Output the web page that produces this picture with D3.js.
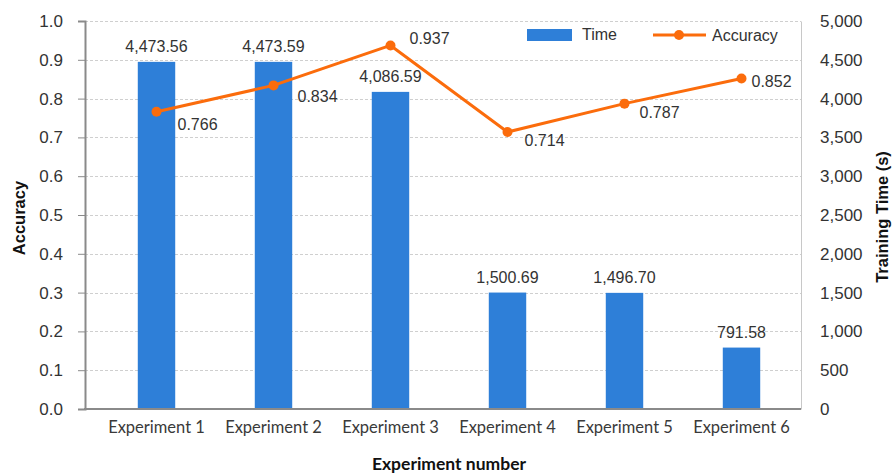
<!DOCTYPE html>
<html>
<head>
<meta charset="utf-8">
<script src="https://cdn.jsdelivr.net/npm/d3@7"></script>
<style>
  html, body { margin: 0; padding: 0; background: #fff; }
  svg { display: block; }
</style>
</head>
<body>
<svg id="chart" width="895" height="476"></svg>
<script>
// Experiments, training time (s) and accuracy per experiment
const experiments = ["Experiment 1", "Experiment 2", "Experiment 3", "Experiment 4", "Experiment 5", "Experiment 6"];
const trainingTime = [4473.56, 4473.59, 4086.59, 1500.69, 1496.70, 791.58];
const accuracy = [0.766, 0.834, 0.937, 0.714, 0.787, 0.852];
const accuracyTicks = [0, 0.1, 0.2, 0.3, 0.4, 0.5, 0.6, 0.7, 0.8, 0.9, 1.0];
const timeTicks = [0, 500, 1000, 1500, 2000, 2500, 3000, 3500, 4000, 4500, 5000];

const BLUE = "#2e7fd8";
const ORANGE = "#fb6c0c";
const TEXT = "#333333";
const NUM_FONT = "'Liberation Sans', Arial, sans-serif";
const CAT_FONT = "Lato, 'Open Sans', sans-serif";

const svg = d3.select("#chart");

const plot = { left: 85, right: 801, top: 21, bottom: 409 };

const x = d3.scaleBand()
  .domain(experiments)
  .range([98, 800])
  .paddingInner(0.68)
  .paddingOuter(0.34);

const yAcc = d3.scaleLinear().domain([0, 1]).range([plot.bottom, plot.top]);
const yTime = d3.scaleLinear().domain([0, 5000]).range([plot.bottom, plot.top]);

// Dashed horizontal gridlines
svg.append("g")
  .selectAll("line")
  .data(accuracyTicks.slice(1))
  .join("line")
  .attr("x1", plot.left)
  .attr("x2", plot.right)
  .attr("y1", d => Math.round(yAcc(d)) + 0.5)
  .attr("y2", d => Math.round(yAcc(d)) + 0.5)
  .attr("stroke", "#cfcfcf")
  .attr("stroke-width", 1)
  .attr("stroke-dasharray", "3,2");

// Left axis (accuracy)
const leftAxis = svg.append("g")
  .attr("transform", `translate(${plot.left},0)`)
  .call(d3.axisLeft(yAcc).tickValues(accuracyTicks).tickFormat(d3.format(".1f")).tickSize(7).tickPadding(15));
leftAxis.select(".domain").attr("stroke", "#8a8a8a").attr("stroke-width", 2);
leftAxis.selectAll(".tick line").attr("stroke", "#8a8a8a");
leftAxis.selectAll(".tick text")
  .attr("fill", TEXT)
  .style("font-family", NUM_FONT)
  .style("font-size", "17px");

// Right axis (training time)
const rightAxis = svg.append("g")
  .attr("transform", `translate(${plot.right},0)`)
  .call(d3.axisRight(yTime).tickValues(timeTicks).tickFormat(d3.format(",")).tickSize(0).tickPadding(19));
rightAxis.select(".domain").attr("stroke", "#c8c8c8").attr("stroke-width", 1);
rightAxis.selectAll(".tick text")
  .attr("fill", TEXT)
  .style("font-family", NUM_FONT)
  .style("font-size", "17px");

// Bars: training time
svg.append("g")
  .selectAll("rect")
  .data(trainingTime)
  .join("rect")
  .attr("x", (d, i) => x(experiments[i]))
  .attr("width", x.bandwidth())
  .attr("y", d => yTime(d))
  .attr("height", d => yTime(0) - yTime(d))
  .attr("fill", BLUE);

// Bar value labels
svg.append("g")
  .selectAll("text")
  .data(trainingTime)
  .join("text")
  .attr("x", (d, i) => x(experiments[i]) + x.bandwidth() / 2)
  .attr("y", d => yTime(d) - 10)
  .attr("text-anchor", "middle")
  .attr("fill", TEXT)
  .style("font-family", NUM_FONT)
  .style("font-size", "16px")
  .text(d => d3.format(",.2f")(d));

// Bottom axis
const bottomAxis = svg.append("g")
  .attr("transform", `translate(0,${plot.bottom})`)
  .call(d3.axisBottom(x).tickSize(0).tickPadding(12));
bottomAxis.select(".domain").remove();
svg.append("line")
  .attr("x1", plot.left - 1).attr("x2", plot.right)
  .attr("y1", plot.bottom).attr("y2", plot.bottom)
  .attr("stroke", "#8a8a8a").attr("stroke-width", 2);
bottomAxis.selectAll(".tick text")
  .attr("fill", "#3a3a3a")
  .style("font-family", CAT_FONT)
  .style("font-size", "16.5px");

// Accuracy line with markers
const cx = i => x(experiments[i]) + x.bandwidth() / 2;
svg.append("path")
  .datum(accuracy)
  .attr("fill", "none")
  .attr("stroke", ORANGE)
  .attr("stroke-width", 3)
  .attr("stroke-linejoin", "round")
  .attr("d", d3.line().x((d, i) => cx(i)).y(d => yAcc(d)));

svg.append("g")
  .selectAll("circle")
  .data(accuracy)
  .join("circle")
  .attr("cx", (d, i) => cx(i))
  .attr("cy", d => yAcc(d))
  .attr("r", 5)
  .attr("fill", ORANGE);

// Accuracy value labels: right of each marker, the peak one sits above
const accLabelOffset = [[21, 13], [24, 11], [19, -7], [17, 8], [15, 9], [10, 3]];
svg.append("g")
  .selectAll("text")
  .data(accuracy)
  .join("text")
  .attr("x", (d, i) => cx(i) + accLabelOffset[i][0])
  .attr("y", (d, i) => yAcc(d) + accLabelOffset[i][1])
  .attr("dy", "0.35em")
  .attr("fill", TEXT)
  .style("font-family", NUM_FONT)
  .style("font-size", "16px")
  .text(d => d3.format(".3f")(d));

// Axis titles
svg.append("text")
  .attr("transform", `translate(19,${(plot.top + plot.bottom) / 2 + 3}) rotate(-90)`)
  .attr("text-anchor", "middle")
  .attr("dy", "0.35em")
  .attr("fill", "#111")
  .style("font-family", NUM_FONT)
  .style("font-weight", "bold")
  .style("font-size", "16.5px")
  .text("Accuracy");

svg.append("text")
  .attr("transform", `translate(882,${(plot.top + plot.bottom) / 2 + 2}) rotate(-90)`)
  .attr("text-anchor", "middle")
  .attr("dy", "0.35em")
  .attr("fill", "#111")
  .style("font-family", NUM_FONT)
  .style("font-weight", "bold")
  .style("font-size", "16.5px")
  .text("Training Time (s)");

svg.append("text")
  .attr("x", 449)
  .attr("y", 464)
  .attr("text-anchor", "middle")
  .attr("dy", "0.35em")
  .attr("fill", "#111")
  .style("font-family", CAT_FONT)
  .style("font-weight", "bold")
  .style("font-size", "17.5px")
  .text("Experiment number");

// Legend
const legend = svg.append("g");
legend.append("rect")
  .attr("x", 527).attr("y", 29).attr("width", 45).attr("height", 12)
  .attr("fill", BLUE);
legend.append("text")
  .attr("x", 582).attr("y", 34).attr("dy", "0.35em")
  .attr("fill", TEXT)
  .style("font-family", NUM_FONT).style("font-size", "16px")
  .text("Time");
legend.append("line")
  .attr("x1", 653).attr("x2", 706).attr("y1", 35).attr("y2", 35)
  .attr("stroke", ORANGE).attr("stroke-width", 3);
legend.append("circle")
  .attr("cx", 679).attr("cy", 35).attr("r", 5).attr("fill", ORANGE);
legend.append("text")
  .attr("x", 712).attr("y", 35).attr("dy", "0.35em")
  .attr("fill", TEXT)
  .style("font-family", NUM_FONT).style("font-size", "16px")
  .text("Accuracy");
</script>
</body>
</html>
